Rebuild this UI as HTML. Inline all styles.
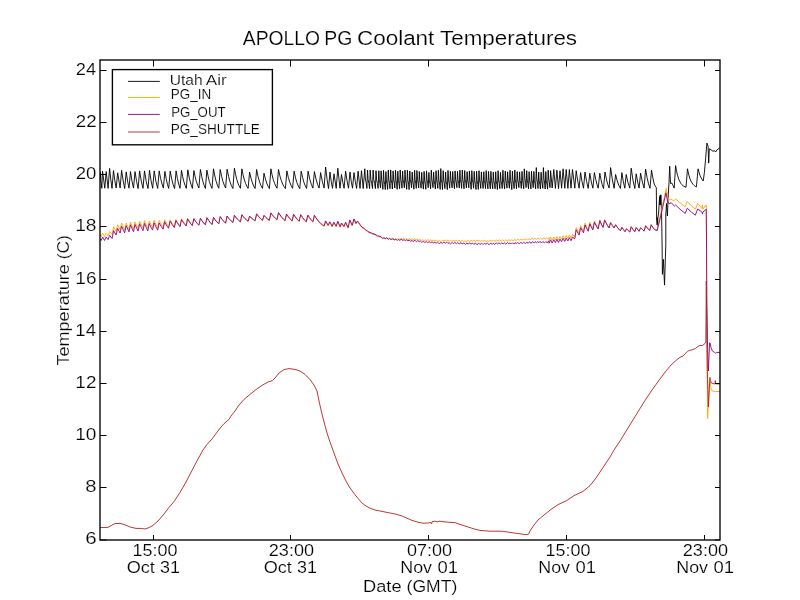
<!DOCTYPE html>
<html><head><meta charset="utf-8"><title>APOLLO PG Coolant Temperatures</title>
<style>
html,body{margin:0;padding:0;background:#fff;}
body{width:800px;height:600px;overflow:hidden;font-family:"Liberation Sans",sans-serif;}
svg{display:block;will-change:transform;}
text{font-family:"Liberation Sans",sans-serif;fill:#000;stroke:#fff;stroke-width:0.18px;}
.ln{fill:none;stroke-width:0.9;stroke-linejoin:round;stroke-linecap:butt;}
</style></head><body>
<svg width="800" height="600" viewBox="0 0 800 600">
<rect x="0" y="0" width="800" height="600" fill="#ffffff"/>
<defs><clipPath id="ax"><rect x="100" y="60" width="620" height="480"/></clipPath></defs>

<g clip-path="url(#ax)">
<path class="ln" stroke="#000000" stroke-width="1.05" d="M100.0 186.0L98.9 188.1L100.4 172.1L100.8 180.5L101.4 183.8L101.8 188.3L102.5 171.1L104.8 188.2L106.2 171.6L108.1 188.4L109.6 168.4L110.8 179.7L112.0 188.4L113.5 170.6L114.8 180.6L116.2 188.0L117.7 172.8L120.1 188.0L121.6 170.4L123.2 181.0L124.7 188.5L126.2 171.9L127.6 181.3L129.0 188.2L130.5 171.6L132.0 181.2L133.5 188.1L135.0 171.6L136.6 181.5L138.1 188.6L139.6 170.9L141.3 181.2L143.0 188.3L144.5 170.9L146.2 181.4L148.0 188.5L149.5 170.4L151.1 180.9L152.7 188.3L154.2 170.9L155.9 181.3L157.7 188.4L159.2 170.9L160.6 178.4L162.0 184.0L163.4 188.1L164.9 171.4L166.2 178.7L167.4 184.2L168.7 188.4L170.2 171.1L171.7 178.8L173.1 184.5L174.6 188.5L176.1 170.9L177.4 178.4L178.7 184.1L180.0 188.3L181.5 170.4L182.7 176.8L183.9 181.8L185.1 185.5L186.3 188.4L187.8 169.8L189.3 178.2L190.9 184.1L192.4 188.4L193.9 170.6L195.2 176.9L196.4 181.7L197.7 185.3L198.9 188.0L200.4 169.5L201.7 176.3L202.9 181.5L204.2 185.5L205.4 188.5L206.9 170.1L208.2 176.7L209.4 181.7L210.7 185.5L212.0 188.4L213.5 168.8L214.8 175.9L216.1 181.2L217.4 185.2L218.8 188.2L220.2 169.5L221.6 176.3L222.9 181.4L224.3 185.2L225.6 188.0L227.1 169.2L228.6 176.5L230.0 181.9L231.4 185.7L232.9 188.5L234.4 168.2L235.6 174.5L236.8 179.5L238.0 183.2L239.2 186.1L240.4 188.3L241.9 168.8L243.1 175.1L244.4 179.9L245.6 183.6L246.9 186.3L248.1 188.4L249.6 172.2L251.0 178.3L252.4 182.8L253.7 186.1L255.1 188.5L256.6 169.5L258.1 176.7L259.6 181.9L261.0 185.7L262.5 188.4L264.0 173.2L265.4 178.9L266.7 183.1L268.0 186.2L269.4 188.6L270.9 168.8L272.1 175.0L273.3 179.7L274.6 183.4L275.8 186.1L277.0 188.2L278.5 169.5L279.9 175.9L281.3 180.6L282.6 184.0L284.0 186.6L285.4 188.5L286.9 170.9L288.3 177.4L289.8 182.2L291.2 185.7L292.6 188.3L294.1 171.2L295.5 177.8L296.9 182.5L298.3 186.0L299.8 188.6L301.2 171.1L302.6 177.5L303.9 182.3L305.3 185.9L306.6 188.5L308.1 171.2L309.7 178.9L311.3 184.3L312.9 188.1L314.4 171.6L316.0 179.0L317.5 184.3L319.1 188.1L320.6 172.6L322.4 181.8L324.1 188.1L325.6 167.0L327.1 179.5L328.5 188.6L330.0 172.0L331.2 181.2L332.5 188.3L334.0 173.8L336.2 188.4L337.8 168.2L340.0 188.2L341.5 174.5L342.8 182.4L344.1 188.3L345.6 171.2L347.1 181.1L348.5 188.2L350.0 172.0L351.2 181.2L352.5 188.2L354.0 172.6L355.3 181.6L356.6 188.4L358.1 171.2L360.0 188.4L361.5 170.7L363.2 188.5L364.8 168.8L365.4 179.0L366.2 182.9L366.9 188.4L367.5 170.1L368.1 179.7L368.9 183.4L369.6 188.6L370.2 170.1L370.9 179.7L371.7 183.3L372.5 188.5L373.1 170.1L373.8 179.7L374.6 183.4L375.4 188.6L376.0 170.7L376.6 179.9L377.4 183.4L378.1 188.4L378.8 170.7L379.3 179.6L379.9 183.1L380.5 187.9L381.1 170.8L381.7 180.4L382.3 184.1L382.9 189.3L383.5 170.3L384.0 180.3L384.7 184.2L385.3 189.5L385.9 171.6L386.4 180.9L387.1 184.4L387.6 189.4L388.3 170.1L388.8 179.8L389.5 183.5L390.0 188.7L390.7 169.9L391.2 179.8L391.9 183.7L392.4 189.0L393.1 170.9L393.6 179.8L394.3 183.2L394.8 188.0L395.5 170.1L396.0 180.1L396.6 183.9L397.2 189.3L397.8 171.2L398.4 180.3L399.0 183.8L399.6 188.7L400.2 170.0L400.8 179.5L401.4 183.1L402.0 188.2L402.6 171.0L403.1 179.7L403.8 183.1L404.4 187.7L405.0 170.1L405.5 180.1L406.2 183.9L406.7 189.3L407.4 170.2L407.9 180.3L408.6 184.1L409.1 189.6L409.8 171.0L410.3 179.7L411.0 183.1L411.5 187.8L412.2 172.0L412.7 181.0L413.3 184.4L413.9 189.2L414.6 170.3L415.1 179.7L415.7 183.3L416.3 188.4L416.9 170.5L417.5 179.6L418.1 183.0L418.7 187.9L419.3 171.5L419.8 180.2L420.5 183.5L421.1 188.2L421.7 172.3L422.2 181.1L422.9 184.4L423.4 189.1L424.1 171.4L424.6 180.7L425.3 184.3L425.8 189.3L426.5 170.9L427.0 179.6L427.7 183.0L428.2 187.7L428.9 172.4L429.4 180.9L430.1 184.2L430.6 188.8L431.3 170.1L431.8 179.2L432.4 182.8L433.0 187.7L433.6 172.1L434.2 180.9L434.8 184.3L435.4 189.0L436.0 170.7L436.6 179.8L437.2 183.3L437.8 188.3L438.4 170.3L438.9 180.2L439.6 184.0L440.2 189.4L440.8 168.6L441.3 179.5L442.0 183.7L442.5 189.6L443.2 170.7L443.7 180.0L444.4 183.6L444.9 188.6L445.6 172.0L446.1 181.1L446.8 184.7L447.3 189.6L448.0 170.4L448.5 179.7L449.1 183.2L449.7 188.2L450.4 171.4L450.9 179.9L451.5 183.2L452.1 187.8L452.7 171.5L453.3 180.5L453.9 184.0L454.5 188.8L455.1 170.9L455.6 179.6L456.3 183.0L456.9 187.7L457.5 171.3L458.0 180.0L458.7 183.3L459.3 188.0L459.9 170.1L460.4 179.6L461.1 183.3L461.6 188.4L462.3 170.1L462.8 179.8L463.5 183.6L464.0 188.8L464.7 170.5L465.2 179.5L465.9 183.0L466.4 187.9L467.1 171.7L467.6 180.0L468.2 183.2L468.8 187.7L469.4 171.0L470.0 180.5L470.6 184.2L471.2 189.3L471.8 170.7L472.4 179.8L473.0 183.3L473.6 188.2L474.2 171.4L474.7 180.8L475.4 184.4L476.0 189.5L476.6 171.1L477.1 180.6L477.8 184.3L478.3 189.4L479.0 170.7L479.5 179.9L480.2 183.4L480.7 188.4L481.4 171.9L481.9 180.6L482.6 183.9L483.1 188.5L483.8 171.7L484.3 180.5L485.0 183.9L485.5 188.6L486.2 170.6L486.7 180.1L487.3 183.8L487.9 188.9L488.5 171.4L489.1 180.4L489.7 183.9L490.3 188.8L490.9 171.3L491.5 180.3L492.1 183.8L492.7 188.7L493.3 172.1L493.8 180.8L494.5 184.2L495.1 188.8L495.7 171.8L496.2 181.0L496.9 184.5L497.4 189.5L498.1 170.7L498.6 180.0L499.3 183.6L499.8 188.6L500.5 172.4L501.0 180.8L501.7 184.0L502.2 188.5L502.9 170.2L503.4 180.0L504.0 183.8L504.6 189.0L505.3 171.0L505.8 179.9L506.4 183.3L507.0 188.1L507.6 171.8L508.2 180.3L508.8 183.6L509.4 188.2L510.0 170.3L510.5 180.3L511.2 184.2L511.8 189.6L512.4 171.2L512.9 180.3L513.6 183.8L514.1 188.6L514.8 170.0L515.3 179.7L516.0 183.5L516.5 188.7L517.2 171.6L517.7 179.9L518.4 183.1L518.9 187.6L519.6 171.9L520.1 180.5L520.8 183.8L521.3 188.4L522.0 171.4L522.5 180.4L523.1 183.9L523.7 188.8L524.3 168.8L524.9 178.6L525.5 182.4L526.1 187.6L526.7 170.7L527.3 180.1L527.9 183.8L528.5 188.8L529.1 171.7L529.6 180.6L530.3 184.1L530.9 188.9L531.5 171.4L532.0 179.9L532.7 183.2L533.2 187.7L533.9 171.4L534.4 180.5L535.1 184.0L535.6 188.9L536.3 167.6L536.8 178.5L537.5 182.7L538.0 188.5L538.7 172.0L539.2 180.8L539.8 184.2L540.4 189.0L541.1 172.3L541.6 180.6L542.2 183.8L542.8 188.3L543.4 167.6L544.0 178.7L544.6 183.0L545.2 189.0L545.8 171.6L546.3 180.7L547.0 184.2L547.6 189.1L548.2 170.1L548.7 179.2L549.4 182.7L550.0 187.6L550.6 170.7L552.2 188.0L553.8 169.5L555.4 188.4L556.9 170.1L558.5 188.6L560.0 170.7L561.6 188.2L563.1 168.8L564.8 188.3L566.2 169.5L567.9 188.4L569.4 169.5L571.0 188.2L572.5 169.5L574.8 188.2L576.2 170.7L577.7 180.8L579.1 188.2L580.6 172.6L582.0 181.6L583.5 188.2L585.0 172.0L586.6 181.6L588.2 188.4L589.8 173.2L591.3 182.0L592.9 188.2L594.4 172.6L595.7 179.3L597.0 184.4L598.2 188.2L599.8 173.2L601.0 179.7L602.2 184.7L603.5 188.5L605.0 172.0L606.4 179.0L607.7 184.2L609.1 188.0L610.6 167.6L612.4 179.9L614.1 188.3L615.6 174.5L617.2 180.8L618.8 185.3L620.4 188.4L621.9 172.6L623.3 181.6L624.8 188.2L626.2 174.5L628.0 182.6L629.8 188.1L631.2 168.2L633.0 180.3L634.8 188.5L636.2 173.8L637.7 182.1L639.1 188.1L640.6 173.2L642.4 182.1L644.1 188.1L645.6 169.1L647.1 177.6L648.5 183.8L650.0 188.3L651.5 170.1L652.9 178.1L654.2 184.0L655.6 186.9L656.3 187.4L656.6 216.0L657.2 225.0L657.1 217.5L657.7 225.4L657.8 218.5L658.6 213.0L659.0 206.0L659.6 196.5L659.9 205.0L660.3 195.0L660.6 205.0L660.9 194.8L661.2 204.0L661.6 215.0L662.1 245.0L662.4 274.3L663.4 259.3L664.5 285.1L665.8 245.0L665.8 215.0L666.5 203.5L667.4 216.0L668.1 198.0L669.0 182.5L669.7 166.2L670.5 183.5L671.9 183.1L672.7 184.8L674.2 188.1L675.6 165.6L676.6 171.5L677.7 175.8L678.7 179.1L679.8 181.5L680.8 183.3L681.8 184.6L682.9 185.6L683.9 186.3L685.0 186.9L686.0 187.3L687.5 168.8L688.6 174.1L689.7 178.0L690.8 180.9L692.0 182.9L693.1 184.4L694.2 185.5L695.3 186.3L696.4 186.9L698.1 168.8L699.1 172.6L700.1 175.6L701.2 177.9L702.2 179.6L703.2 181.0L704.4 172.5L705.6 158.8L706.9 143.1L707.6 145.0L708.1 146.5L708.7 163.1L709.3 148.8L711.2 150.0L713.1 151.3L714.4 150.6L715.6 152.0L716.9 150.0L719.4 148.1L720.5 147.8"/>
<path class="ln" stroke="#ffa500" stroke-width="1.05" d="M100.0 234.6L101.1 236.7L102.6 233.2L104.5 236.7L106.0 233.2L108.1 235.7L109.6 231.5L112.1 234.6L113.6 226.7L116.1 231.3L117.6 224.7L120.1 229.9L121.6 223.0L123.2 226.9L124.7 230.2L126.2 223.1L129.0 229.3L130.5 222.2L132.0 225.9L133.5 229.1L135.0 221.9L136.6 225.4L138.1 228.4L139.6 221.1L141.3 224.8L143.0 227.9L144.5 220.6L146.2 224.7L147.8 228.2L149.3 220.9L150.9 224.5L152.6 227.5L154.1 220.2L155.9 224.3L157.7 227.8L159.2 220.5L161.1 224.1L163.1 227.1L164.6 219.8L166.6 223.7L168.6 226.8L170.1 219.7L172.2 223.5L174.4 226.5L175.9 219.4L177.9 222.9L180.0 225.8L181.5 218.7L183.0 221.3L184.6 223.5L186.1 225.3L187.6 218.2L189.2 221.0L190.7 223.4L192.3 225.4L193.8 218.5L195.5 221.1L197.2 223.3L198.9 225.2L200.4 218.2L202.1 220.8L203.7 223.0L205.4 224.8L206.9 217.7L208.6 220.4L210.3 222.6L212.0 224.5L213.5 217.4L215.2 219.9L217.0 222.1L218.8 223.8L220.2 216.7L222.0 219.3L223.8 221.5L225.6 223.3L227.1 216.2L229.0 218.8L231.0 221.0L232.9 222.8L234.4 215.6L235.9 217.6L237.4 219.3L238.9 220.8L240.4 222.1L241.9 215.0L243.4 217.0L245.0 218.8L246.6 220.3L248.1 221.6L249.6 216.5L251.4 218.3L253.3 219.8L255.1 221.1L256.6 214.2L258.6 216.8L260.5 218.9L262.5 220.7L264.0 215.8L265.8 217.8L267.6 219.4L269.4 220.8L270.9 213.2L272.4 215.4L273.9 217.2L275.5 218.8L277.0 220.1L278.5 213.0L280.1 215.6L281.8 217.7L283.4 219.5L285.0 221.1L286.5 214.6L288.4 217.3L290.2 219.5L292.1 221.4L293.6 214.9L295.5 217.6L297.3 219.8L299.2 221.7L300.7 215.2L302.6 218.0L304.4 220.4L306.3 222.2L307.8 215.6L309.5 218.2L311.2 220.4L312.9 222.2L314.4 215.8L316.0 218.4L317.6 220.6L319.1 222.4L320.7 224.0L322.3 225.3L324.2 226.4L325.6 221.6L328.1 225.9L329.8 222.5L332.2 226.9L333.8 222.9L336.2 226.9L337.8 221.9L340.2 227.4L341.5 223.7L344.0 227.1L345.6 222.9L348.1 228.3L349.8 220.6L352.2 225.9L354.0 219.6L356.0 224.0L357.5 221.6L360.0 225.2L362.0 227.8L363.8 228.7L365.5 230.3L367.5 231.7L369.0 232.8L371.2 233.6L373.0 234.4L375.0 234.9L377.5 236.5L380.0 237.0L381.2 236.9L382.6 238.8L384.0 237.4L385.5 238.7L386.9 237.7L388.5 239.0L389.7 238.3L391.3 239.5L392.4 237.9L394.1 239.7L395.6 238.6L396.7 239.6L397.8 238.5L399.1 239.3L400.5 238.3L402.1 239.6L403.5 238.3L405.0 239.6L406.3 238.2L408.0 239.9L409.5 238.7L410.8 239.8L411.9 238.6L413.3 240.3L414.6 238.7L416.2 240.0L417.4 238.8L418.8 240.6L420.1 239.4L421.6 240.7L422.9 239.6L424.2 240.9L425.7 239.8L427.0 240.6L428.1 239.5L429.3 241.0L430.7 239.9L432.2 240.8L433.7 240.1L435.1 241.1L436.3 239.8L437.9 241.4L439.5 240.4L440.9 241.6L442.4 240.3L444.1 241.1L445.3 239.8L446.6 241.1L447.8 240.2L449.2 241.2L450.7 240.1L452.0 241.6L453.4 240.1L455.1 241.3L456.2 240.0L457.8 241.4L459.0 240.2L460.7 241.5L462.4 240.2L463.8 241.7L465.0 240.7L466.7 241.5L468.2 240.5L469.8 241.6L471.1 240.4L472.6 241.2L473.8 240.2L475.5 241.5L476.7 240.0L478.0 241.2L479.2 240.3L480.3 241.4L481.7 240.3L482.8 241.5L484.5 240.1L486.0 241.7L487.4 240.6L488.5 241.4L490.2 240.3L491.9 241.3L493.4 240.2L494.9 241.2L496.6 240.2L498.0 241.2L499.7 239.7L501.2 241.2L502.8 239.8L504.3 241.2L506.0 239.7L507.5 241.1L509.0 239.5L510.3 240.9L511.8 239.7L513.3 240.9L514.9 239.2L516.2 240.7L517.7 239.2L519.3 240.2L520.8 239.3L522.3 240.2L523.5 238.8L524.9 240.1L526.6 238.8L527.7 239.8L529.2 238.7L530.4 239.9L531.9 238.4L533.5 239.4L535.0 238.3L536.4 239.5L538.0 237.9L539.4 239.3L540.6 238.2L542.0 239.4L543.7 237.8L545.3 239.0L546.5 237.8L547.8 238.9L549.1 237.6L549.1 240.6L550.6 237.2L552.2 240.3L553.8 237.0L555.4 239.9L556.9 236.6L558.5 239.7L560.0 236.4L561.6 239.0L563.1 235.7L564.8 238.7L566.2 235.4L567.9 238.2L569.4 234.9L571.0 238.0L572.5 234.5L574.8 236.7L576.2 227.6L579.1 233.1L580.6 225.7L583.5 231.0L585.0 223.2L586.6 226.7L588.2 229.8L589.8 222.4L591.3 225.8L592.9 228.7L594.4 221.1L596.3 224.9L598.2 228.1L599.8 219.9L601.4 223.7L603.1 226.9L604.6 219.5L606.1 222.6L607.6 225.3L609.1 227.6L610.6 222.4L612.4 225.3L614.1 227.7L615.6 224.5L617.2 226.9L618.8 228.9L620.4 230.7L621.9 227.2L623.5 229.5L625.0 231.5L626.5 228.6L628.1 230.3L629.8 231.9L631.2 226.6L633.0 229.2L634.8 231.5L636.2 227.4L639.1 231.2L640.6 227.6L642.4 229.4L644.1 231.0L645.6 225.7L647.7 228.2L649.7 230.2L651.2 224.5L652.9 227.2L654.7 229.5L657.0 230.0L661.0 212.0L666.2 188.4L667.5 196.4L668.8 200.1L670.6 199.0L673.8 200.8L675.6 199.0L680.0 202.8L685.2 206.7L687.3 201.6L691.2 205.6L695.4 209.2L697.6 203.4L700.0 206.0L702.1 208.5L702.4 204.9L702.9 209.2L706.1 204.9L706.4 208.9L706.5 260.0L706.9 340.0L707.6 418.5L708.6 400.0L709.4 384.0L709.9 381.6L710.4 382.5L711.1 388.8L712.3 391.0L715.3 391.5L720.0 391.5"/>
<path class="ln" stroke="#8b008b" stroke-width="1.05" d="M100.0 238.6L101.1 240.5L102.6 237.0L104.5 240.5L106.0 237.0L108.1 239.6L109.6 235.4L112.1 238.5L113.6 230.6L116.1 235.0L117.6 228.3L120.1 233.1L121.6 226.2L123.2 229.7L124.7 232.8L126.2 225.7L129.0 231.9L130.5 224.8L132.0 228.5L133.5 231.7L135.0 224.5L136.6 228.0L138.1 231.1L139.6 223.8L141.3 227.5L143.0 230.7L144.5 223.4L146.2 227.4L147.8 230.9L149.3 223.6L150.9 227.1L152.6 230.1L154.1 222.8L155.9 226.8L157.7 230.2L159.2 222.9L161.1 226.3L163.1 229.2L164.6 221.8L166.6 225.5L168.6 228.3L170.1 221.2L172.2 224.7L174.4 227.6L175.9 220.5L177.9 223.9L180.0 226.7L181.5 219.6L183.0 222.1L184.6 224.2L186.1 226.0L187.6 218.9L189.2 221.5L190.7 223.7L192.3 225.6L193.8 218.7L195.5 221.3L197.2 223.5L198.9 225.2L200.4 218.3L202.1 220.9L203.7 223.0L205.4 224.8L206.9 217.7L208.6 220.4L210.3 222.6L212.0 224.5L213.5 217.4L215.2 219.9L217.0 222.0L218.8 223.8L220.2 216.6L222.0 219.2L223.8 221.4L225.6 223.2L227.1 216.0L229.0 218.6L231.0 220.7L232.9 222.4L234.4 215.2L235.9 217.3L237.4 219.0L238.9 220.5L240.4 221.8L241.9 214.7L243.4 216.7L245.0 218.5L246.6 219.9L248.1 221.2L249.6 216.1L251.4 217.9L253.3 219.4L255.1 220.7L256.6 213.8L258.6 216.4L260.5 218.5L262.5 220.2L264.0 215.3L265.8 217.3L267.6 218.9L269.4 220.2L270.9 212.8L272.4 214.9L273.9 216.7L275.5 218.3L277.0 219.6L278.5 212.5L280.1 215.0L281.8 217.2L283.4 219.0L285.0 220.5L286.5 214.0L288.4 216.7L290.2 218.9L292.1 220.8L293.6 214.3L295.5 217.0L297.3 219.2L299.2 221.1L300.7 214.6L302.6 217.4L304.4 219.8L306.3 221.7L307.8 215.0L309.5 217.6L311.2 219.8L312.9 221.7L314.4 215.2L316.0 217.8L317.6 220.0L319.1 221.8L320.7 223.4L322.3 224.7L324.2 225.7L325.6 220.9L328.1 225.2L329.8 221.8L332.2 226.2L333.8 222.2L336.2 226.2L337.8 221.2L340.2 226.7L341.5 223.0L344.0 226.4L345.6 222.2L348.1 227.6L349.8 219.9L352.2 225.2L354.0 218.9L356.0 223.3L357.5 220.9L360.0 224.5L362.0 227.1L363.8 228.0L365.5 229.7L367.5 231.0L369.0 232.1L371.2 232.9L373.0 233.8L375.0 234.2L377.5 235.8L380.0 236.3L381.2 236.9L382.7 238.6L383.9 237.7L385.2 238.8L386.8 237.8L388.3 239.4L389.7 238.5L391.1 239.5L392.8 238.9L394.3 239.9L395.9 239.1L397.2 240.5L398.3 239.4L400.0 240.5L401.1 239.0L402.8 240.4L404.1 239.7L405.4 240.9L406.6 239.6L407.8 240.9L409.3 240.0L410.7 241.4L412.1 240.3L413.2 241.7L414.9 240.2L416.4 241.8L417.7 240.6L419.2 241.8L420.4 241.0L421.8 242.4L423.2 241.4L424.8 242.5L426.3 241.5L427.6 242.6L429.2 241.7L430.6 242.7L432.1 241.9L433.4 242.9L434.9 242.2L436.2 243.2L437.5 242.2L439.2 243.6L440.9 242.5L442.5 243.4L443.7 242.1L445.4 243.2L446.6 242.1L447.9 243.4L449.0 242.6L450.5 243.9L452.2 242.4L453.3 243.6L454.9 242.4L456.4 243.7L457.8 242.7L459.3 243.9L461.0 242.6L462.1 244.0L463.8 243.1L465.4 244.3L467.0 242.9L468.2 244.2L469.4 242.9L471.0 244.1L472.6 243.1L473.8 244.3L475.5 243.1L477.0 244.7L478.7 243.1L480.0 244.6L481.7 243.1L483.1 244.5L484.4 243.2L485.9 244.3L487.4 243.1L489.0 244.7L490.6 243.1L492.2 244.3L493.4 243.1L494.6 244.5L496.2 242.9L497.6 243.9L499.0 242.8L500.4 244.0L501.7 242.9L503.2 243.9L504.4 242.9L505.9 244.2L507.4 242.6L508.7 243.8L510.1 242.8L511.3 244.1L512.6 242.8L513.9 244.1L515.0 242.6L516.3 243.6L517.7 242.6L519.3 243.6L520.8 242.4L522.2 243.5L523.8 242.2L525.2 243.5L526.8 242.1L528.2 243.3L529.5 241.7L531.0 243.3L532.5 241.6L533.8 243.0L535.1 241.6L536.4 242.7L537.6 241.7L539.0 242.6L540.1 241.3L541.4 243.0L542.9 241.5L544.5 242.9L545.8 241.6L547.3 242.8L548.7 240.9L549.1 243.2L550.6 239.9L552.2 243.0L553.8 239.7L555.4 242.6L556.9 239.2L558.5 242.4L560.0 239.1L561.6 241.7L563.1 238.3L564.8 241.4L566.2 238.1L567.9 240.9L569.4 237.6L571.0 240.7L572.5 237.2L574.8 238.8L576.2 229.8L579.1 235.1L580.6 227.7L583.5 232.8L585.0 225.0L586.6 228.4L588.2 231.3L589.8 223.9L591.3 227.1L592.9 229.9L594.4 222.2L596.3 226.0L598.2 229.0L599.8 220.8L601.4 224.4L603.1 227.5L604.6 220.1L606.1 223.1L607.6 225.7L609.1 228.0L610.6 222.8L612.4 225.6L614.1 228.0L615.6 224.8L617.2 227.2L618.8 229.2L620.4 230.8L621.9 227.4L623.5 229.7L625.0 231.7L626.5 228.8L628.1 230.5L629.8 232.1L631.2 226.8L633.0 229.4L634.8 231.7L636.2 227.6L639.1 231.3L640.6 227.8L642.4 229.6L644.1 231.2L645.6 225.8L647.7 228.4L649.7 230.5L651.2 224.8L652.9 227.5L654.7 229.8L657.2 230.6L661.2 214.0L666.0 192.8L667.5 201.2L669.0 203.8L671.2 202.7L674.4 206.2L675.6 205.0L680.0 209.2L685.2 213.4L687.3 208.2L691.2 211.9L695.4 215.2L697.6 209.0L700.0 210.6L702.1 212.3L702.5 214.1L702.9 212.0L706.2 209.3L706.5 240.0L706.8 300.0L707.5 345.0L708.4 371.0L709.0 356.0L709.6 342.7L710.2 343.6L711.1 347.8L712.3 350.8L714.5 352.4L715.6 353.4L716.3 352.4L720.0 352.4"/>
<path class="ln" stroke="#b22222" d="M100.0 527.6L108.0 527.4L111.0 525.6L115.0 523.6L120.0 523.4L125.0 524.8L130.0 527.0L136.0 528.4L141.0 528.4L145.0 529.0L149.0 527.6L153.0 525.4L158.0 521.0L164.0 514.0L169.0 507.4L174.0 501.6L180.0 492.4L186.0 482.0L192.0 470.4L198.0 459.0L203.0 450.0L207.0 444.4L212.0 439.0L216.0 433.6L220.0 428.2L224.0 423.6L229.0 419.4L231.0 416.0L235.0 411.0L239.0 405.0L244.0 399.4L250.0 394.4L256.0 389.6L262.0 385.4L268.0 382.0L272.4 380.6L275.0 378.0L279.0 373.0L284.0 369.6L289.0 368.6L295.0 369.4L300.0 371.0L305.0 374.4L310.0 379.6L314.0 385.0L317.0 391.0L318.4 398.0L321.0 410.0L324.0 422.0L327.0 433.0L330.0 442.0L334.0 453.0L338.0 464.0L342.0 473.0L346.0 481.0L350.0 488.0L354.0 493.4L358.0 498.4L362.0 503.0L366.0 506.0L370.0 508.2L375.0 510.0L382.0 511.4L390.0 513.0L396.0 514.2L402.0 516.0L407.0 518.2L412.0 520.4L418.0 522.2L423.0 523.2L428.0 523.0L431.0 522.6L431.6 523.8L432.2 521.6L435.0 521.2L438.0 522.0L439.0 521.0L442.0 521.6L448.0 522.2L455.0 522.6L460.0 524.4L468.0 527.0L475.0 529.2L480.0 530.4L490.0 531.2L502.0 531.2L510.0 532.4L520.0 533.8L526.0 534.6L528.6 534.2L530.0 531.0L534.0 525.0L538.0 520.0L544.0 515.0L551.0 509.4L558.0 504.6L566.0 501.0L574.0 495.6L583.0 491.4L590.0 485.6L596.0 478.0L602.0 469.0L610.0 457.0L614.0 450.0L620.0 441.0L628.0 428.0L636.0 415.0L644.0 402.0L652.0 390.0L660.0 379.0L666.0 371.0L671.0 365.0L677.0 359.6L680.0 357.3L683.0 356.0L687.5 351.3L689.4 350.4L691.3 350.1L695.4 348.6L698.0 346.4L699.9 345.5L702.5 345.5L705.1 343.4L705.8 341.8L706.0 320.0L706.3 281.0L706.7 320.0L707.3 370.0L708.4 407.0L709.2 392.0L709.9 377.3L710.4 380.5L711.5 383.1L714.5 383.9L715.0 383.6L715.3 380.6L715.7 383.9L720.0 383.9"/>
</g>
<rect x="100" y="60" width="620" height="480" fill="none" stroke="#000" stroke-width="1.35"/>
<path d="M153.5 540V535M153.5 60V66.5" stroke="#000" stroke-width="1"/>
<path d="M290.5 540V535M290.5 60V66.5" stroke="#000" stroke-width="1"/>
<path d="M428.5 540V535M428.5 60V66.5" stroke="#000" stroke-width="1"/>
<path d="M566.5 540V535M566.5 60V66.5" stroke="#000" stroke-width="1"/>
<path d="M704.5 540V535M704.5 60V66.5" stroke="#000" stroke-width="1"/>
<path d="M100 540.0H106.5M720 540.0H715" stroke="#000" stroke-width="1"/>
<path d="M100 487.5H106.5M720 487.5H715" stroke="#000" stroke-width="1"/>
<path d="M100 435.5H106.5M720 435.5H715" stroke="#000" stroke-width="1"/>
<path d="M100 383.5H106.5M720 383.5H715" stroke="#000" stroke-width="1"/>
<path d="M100 331.5H106.5M720 331.5H715" stroke="#000" stroke-width="1"/>
<path d="M100 279.5H106.5M720 279.5H715" stroke="#000" stroke-width="1"/>
<path d="M100 226.5H106.5M720 226.5H715" stroke="#000" stroke-width="1"/>
<path d="M100 174.5H106.5M720 174.5H715" stroke="#000" stroke-width="1"/>
<path d="M100 122.5H106.5M720 122.5H715" stroke="#000" stroke-width="1"/>
<path d="M100 70.5H106.5M720 70.5H715" stroke="#000" stroke-width="1"/>
<text x="132.52" y="555.85" font-size="17.2" textLength="44.85" lengthAdjust="spacingAndGlyphs">15:00</text>
<text x="126.73" y="572.65" font-size="17.2" textLength="28.20" lengthAdjust="spacingAndGlyphs">Oct</text>
<text x="159.99" y="572.65" font-size="17.2" textLength="19.93" lengthAdjust="spacingAndGlyphs">31</text>
<text x="268.80" y="555.85" font-size="17.2" textLength="45.20" lengthAdjust="spacingAndGlyphs">23:00</text>
<text x="263.73" y="572.65" font-size="17.2" textLength="28.20" lengthAdjust="spacingAndGlyphs">Oct</text>
<text x="296.99" y="572.65" font-size="17.2" textLength="19.93" lengthAdjust="spacingAndGlyphs">31</text>
<text x="407.06" y="555.85" font-size="17.2" textLength="44.95" lengthAdjust="spacingAndGlyphs">07:00</text>
<text x="400.26" y="572.65" font-size="17.2" textLength="31.72" lengthAdjust="spacingAndGlyphs">Nov</text>
<text x="437.43" y="572.65" font-size="17.2" textLength="20.51" lengthAdjust="spacingAndGlyphs">01</text>
<text x="545.52" y="555.85" font-size="17.2" textLength="44.85" lengthAdjust="spacingAndGlyphs">15:00</text>
<text x="538.26" y="572.65" font-size="17.2" textLength="31.72" lengthAdjust="spacingAndGlyphs">Nov</text>
<text x="575.43" y="572.65" font-size="17.2" textLength="20.51" lengthAdjust="spacingAndGlyphs">01</text>
<text x="682.80" y="555.85" font-size="17.2" textLength="45.20" lengthAdjust="spacingAndGlyphs">23:00</text>
<text x="676.26" y="572.65" font-size="17.2" textLength="31.72" lengthAdjust="spacingAndGlyphs">Nov</text>
<text x="713.43" y="572.65" font-size="17.2" textLength="20.51" lengthAdjust="spacingAndGlyphs">01</text>
<text x="85.20" y="544.40" font-size="17.2" textLength="11.45" lengthAdjust="spacingAndGlyphs">6</text>
<text x="85.23" y="491.90" font-size="17.2" textLength="11.26" lengthAdjust="spacingAndGlyphs">8</text>
<text x="75.23" y="439.90" font-size="17.2" textLength="21.16" lengthAdjust="spacingAndGlyphs">10</text>
<text x="75.36" y="387.90" font-size="17.2" textLength="21.06" lengthAdjust="spacingAndGlyphs">12</text>
<text x="75.38" y="335.90" font-size="17.2" textLength="20.68" lengthAdjust="spacingAndGlyphs">14</text>
<text x="75.39" y="283.90" font-size="17.2" textLength="21.16" lengthAdjust="spacingAndGlyphs">16</text>
<text x="75.21" y="230.90" font-size="17.2" textLength="21.35" lengthAdjust="spacingAndGlyphs">18</text>
<text x="75.77" y="178.90" font-size="17.2" textLength="20.60" lengthAdjust="spacingAndGlyphs">20</text>
<text x="75.72" y="126.90" font-size="17.2" textLength="20.83" lengthAdjust="spacingAndGlyphs">22</text>
<text x="75.72" y="74.90" font-size="17.2" textLength="20.33" lengthAdjust="spacingAndGlyphs">24</text>
<text x="363.08" y="591.70" font-size="17.2" textLength="38.50" lengthAdjust="spacingAndGlyphs">Date</text>
<text x="406.60" y="591.70" font-size="17.2" textLength="50.64" lengthAdjust="spacingAndGlyphs">(GMT)</text>
<text transform="translate(68.90 365.55) rotate(-90)" font-size="17.2" textLength="101.41" lengthAdjust="spacingAndGlyphs">Temperature</text>
<text transform="translate(68.90 259.21) rotate(-90)" font-size="17.2" textLength="23.99" lengthAdjust="spacingAndGlyphs">(C)</text>
<text x="242.81" y="44.80" font-size="20.0" textLength="77.18" lengthAdjust="spacingAndGlyphs">APOLLO</text>
<text x="324.20" y="44.80" font-size="20.0" textLength="28.09" lengthAdjust="spacingAndGlyphs">PG</text>
<text x="356.93" y="44.80" font-size="20.0" textLength="77.44" lengthAdjust="spacingAndGlyphs">Coolant</text>
<text x="439.98" y="44.80" font-size="20.0" textLength="137.12" lengthAdjust="spacingAndGlyphs">Temperatures</text>
<rect x="112.4" y="69.6" width="160" height="75.2" fill="#fff" stroke="#000" stroke-width="1.35"/>
<path d="M128 81.4H159.8" stroke="#000000" stroke-width="0.9" fill="none"/>
<path d="M128 97.5H159.8" stroke="#ffa500" stroke-width="0.9" fill="none"/>
<path d="M128 114.4H159.8" stroke="#8b008b" stroke-width="0.9" fill="none"/>
<path d="M128 132.0H159.8" stroke="#b22222" stroke-width="0.9" fill="none"/>
<text x="169.78" y="84.90" font-size="14.2" textLength="32.83" lengthAdjust="spacingAndGlyphs">Utah</text>
<text x="205.81" y="84.90" font-size="14.2" textLength="20.88" lengthAdjust="spacingAndGlyphs">Air</text>
<text x="170.87" y="98.95" font-size="14.2" textLength="40.41" lengthAdjust="spacingAndGlyphs">PG_IN</text>
<text x="171.15" y="116.80" font-size="14.2" textLength="54.41" lengthAdjust="spacingAndGlyphs">PG_OUT</text>
<text x="170.76" y="133.70" font-size="14.2" textLength="89.06" lengthAdjust="spacingAndGlyphs">PG_SHUTTLE</text>
</svg></body></html>
